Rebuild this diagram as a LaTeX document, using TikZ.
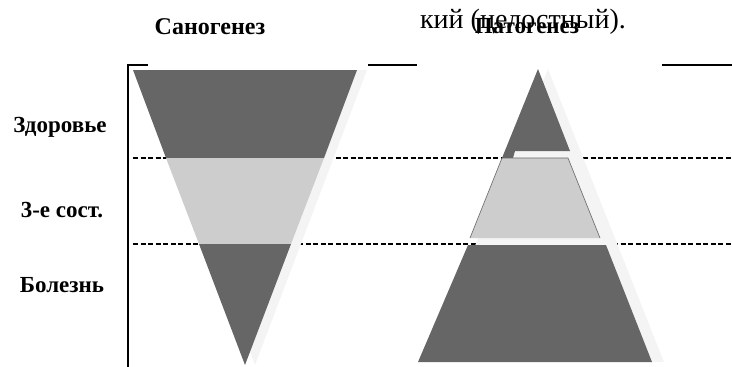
\documentclass[tikz,border=0pt]{standalone}
\usepackage{fontspec}
\setmainfont{Liberation Serif}
\usetikzlibrary{positioning}
\definecolor{darkgr}{RGB}{102,102,102}
\definecolor{lightgr}{RGB}{205,205,205}
\definecolor{shadowgr}{RGB}{244,244,244}
\tikzset{darkpart/.style = {fill=darkgr, draw=none}}
\tikzset{lightpart/.style = {fill=lightgr, draw=none}}
\tikzset{shadowpart/.style = {fill=shadowgr, draw=none}}
\tikzset{levelline/.style = {line width=1.4pt, dash pattern=on 5pt off 2.5pt}}
\tikzset{lbl/.style = {font=\bfseries\fontsize{23}{26}\selectfont, inner sep=0}}
\tikzset{every picture/.style={x=1pt, y=-1pt}}

\begin{document}
\begin{tikzpicture}
      \useasboundingbox (0,0) rectangle (732,367);
      % levels
      \draw[levelline] (133,158) -- (732,158);
      \draw[levelline] (133,244) -- (732,244);
      % axes
      \draw[line width=1.3pt] (128,367) -- (128,65) -- (148,65);
      \draw[line width=1.3pt] (368,65) -- (417,65);
      \draw[line width=1.3pt] (662,65) -- (732,65);
      % Sanogenez
      \fill[shadowpart] (143,70) -- (367,70) -- (255,365) -- cycle;
      \fill[darkpart] (133,70) -- (357,70) -- (324,158) -- (166,158) -- cycle;
      \fill[lightpart] (166,158) -- (324,158) -- (291,244) -- (199,244) -- cycle;
      \fill[darkpart] (199,244) -- (291,244) -- (245,365) -- cycle;
      % Patogenez
      \fill[shadowpart] (548,69) -- (664,362) -- (427,362) -- cycle;
      \fill[darkpart] (538,69) -- (570,151) -- (515,151) -- (513,158) -- (502,158) -- cycle;
      \fill[lightpart] (502,158) -- (568,158) -- (600,238) -- (470,238) -- cycle;
      \draw[darkgr, line width=0.6pt] (470,238) -- (502,158) -- (568,158) -- (600,238);
      \fill[darkpart] (468,245) -- (606,245) -- (652,362) -- (418,362) -- cycle;
      % labels
      \node[lbl] (health) at (60,127) {Здоровье};
      \node[lbl] (third) at (62,210) {3-е сост.};
      \node[lbl] (illness) at (62,285) {Болезнь};
      \node[lbl, font=\bfseries\fontsize{24}{27}\selectfont] (sano) at (210,27) {Саногенез};
      \node[font=\fontsize{28}{32}\selectfont, inner sep=0] (whole) at (523,22) {кий (целостный).};
      \node[lbl] (pato) at (527,26) {Патогенез};
    \end{tikzpicture}
\end{document}
